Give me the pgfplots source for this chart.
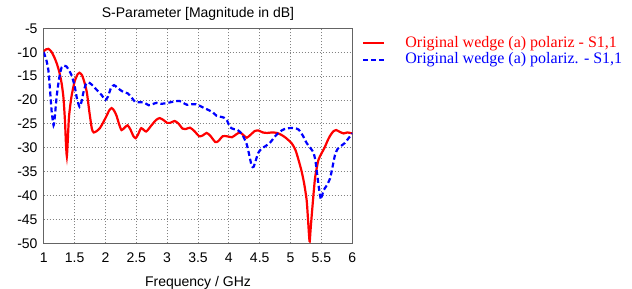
\documentclass[border=0pt]{standalone}
\usepackage{fontspec}
\setmainfont{Liberation Sans}
\newfontfamily\legfont{Liberation Serif}
\usepackage{pgfplots}
\pgfplotsset{compat=1.18}
\definecolor{cred}{RGB}{255,0,0}
\definecolor{cblue}{RGB}{0,0,255}
\definecolor{cgrid}{RGB}{130,130,130}
\definecolor{cframe}{RGB}{100,100,100}
\begin{document}
\begin{tikzpicture}
\path[use as bounding box] (0,0) rectangle (632bp,289bp);
\begin{axis}[
  at={(43.7bp,45.7bp)}, anchor=south west,
  scale only axis, width=308.6bp, height=215bp,
  xmin=1, xmax=6, ymin=-50, ymax=-5,
  xtick={1,1.5,...,6}, ytick={-50,-45,...,-5},
  xticklabels={1,1.5,2,2.5,3,3.5,4,4.5,5,5.5,6},
  yticklabels={-50,-45,-40,-35,-30,-25,-20,-15,-10,-5},
  major tick length=0pt,
  /pgf/number format/assume math mode=true,
  tick label style={font=\fontsize{14bp}{16bp}\selectfont, text=black},
  yticklabel style={inner sep=0pt, xshift=-6bp},
  xticklabel style={inner sep=0pt, yshift=-9bp},
  grid=major,
  major grid style={color=cgrid, line width=0.8bp, dash pattern=on 1bp off 2bp},
  axis line style={color=cframe, line width=1bp},
  title={S-Parameter [Magnitude in dB]},
  title style={font=\fontsize{14bp}{16bp}\selectfont, at={(0.5,1)}, anchor=south, yshift=0bp, inner sep=2bp},
  xlabel={Frequency / GHz},
  xlabel style={font=\fontsize{14bp}{16bp}\selectfont, inner sep=0pt, yshift=-14bp},
  legend style={at={(rel axis cs:1,1)}, anchor=north west, xshift=9.7bp, yshift=-6.7bp,
    draw=none, fill=none, inner sep=0pt, row sep=0.6bp,
    nodes={inner sep=0pt, text height=12bp, text depth=4bp},
    /tikz/every odd column/.style={column sep=20bp},
    font=\legfont\fontsize{16bp}{18bp}\selectfont},
  legend cell align=left,
  legend image code/.code={\draw[#1] (0bp,0bp) -- (21bp,0bp);},
]
\addplot[cred, line width=2.2bp, smooth, tension=0.4] coordinates {
(1.00,-9.8) (1.04,-9.4) (1.075,-9.3) (1.12,-9.8) (1.17,-11.0) (1.21,-12.3)
(1.25,-14.0) (1.29,-16.5) (1.32,-19.5) (1.345,-24.5) (1.36,-29.0) (1.375,-31.8)
(1.39,-28.5) (1.41,-23.5) (1.45,-19.3) (1.50,-16.2) (1.55,-14.6) (1.58,-14.3)
(1.62,-14.8) (1.66,-16.3) (1.70,-18.5) (1.74,-22.5) (1.78,-26.0) (1.81,-26.8)
(1.86,-26.5) (1.91,-25.9) (1.96,-24.8) (2.02,-23.3) (2.06,-22.2) (2.10,-21.7)
(2.14,-22.2) (2.18,-23.3) (2.22,-25.0) (2.26,-26.3) (2.31,-25.8) (2.36,-25.3)
(2.41,-26.3) (2.45,-27.5) (2.49,-28.0) (2.53,-27.2) (2.58,-25.9) (2.66,-26.6)
(2.74,-25.4) (2.82,-24.2) (2.88,-23.8) (2.94,-24.2) (3.00,-24.8) (3.05,-24.8)
(3.12,-24.4) (3.18,-24.9) (3.25,-26.0) (3.30,-26.1) (3.37,-25.8) (3.44,-26.5)
(3.52,-27.6) (3.58,-27.4) (3.64,-26.9) (3.70,-27.5) (3.78,-28.8) (3.83,-28.6)
(3.90,-27.6) (3.97,-27.6) (4.05,-27.8) (4.12,-27.2) (4.18,-26.8) (4.24,-27.4)
(4.29,-27.9) (4.35,-27.3) (4.42,-26.5) (4.48,-26.4) (4.55,-26.8) (4.62,-26.9)
(4.70,-26.8) (4.78,-26.9) (4.85,-27.3) (4.92,-27.9) (5.02,-29.1) (5.08,-30.5)
(5.13,-32.6) (5.18,-35.0) (5.22,-37.5) (5.26,-40.9) (5.28,-44.5) (5.30,-48.5)
(5.31,-49.6) (5.325,-47.0) (5.35,-43.0) (5.38,-38.5) (5.40,-36.0) (5.45,-32.6)
(5.50,-31.2) (5.55,-30.0) (5.60,-28.5) (5.64,-27.5) (5.69,-26.6) (5.74,-26.3)
(5.80,-26.7) (5.86,-27.0) (5.92,-26.8) (6.00,-27.0)
};
\addlegendentry{\textcolor{cred}{Original wedge (a) polariz - S1,1}}
\addplot[cblue, line width=2.2bp, dash pattern=on 5bp off 3bp, smooth, tension=0.4] coordinates {
(1.00,-10.0) (1.04,-11.5) (1.075,-13.7) (1.10,-17.5) (1.13,-22.5) (1.16,-25.3)
(1.18,-23.5) (1.21,-19.3) (1.25,-15.5) (1.29,-13.2) (1.33,-12.8) (1.37,-13.0)
(1.41,-13.8) (1.45,-14.8) (1.50,-17.0) (1.54,-19.8) (1.58,-21.4) (1.61,-20.5)
(1.64,-18.6) (1.68,-16.8) (1.72,-16.3) (1.78,-16.8) (1.86,-17.9) (1.94,-19.0)
(2.00,-20.0) (2.04,-19.3) (2.09,-17.5) (2.14,-16.9) (2.19,-17.4) (2.24,-17.9)
(2.30,-18.4) (2.36,-18.6) (2.42,-19.4) (2.48,-20.4) (2.55,-20.5) (2.62,-20.5)
(2.70,-21.1) (2.76,-20.9) (2.83,-20.6) (2.90,-20.8) (2.97,-20.7) (3.05,-20.5)
(3.12,-20.3) (3.20,-20.2) (3.26,-20.6) (3.32,-21.0) (3.40,-20.9) (3.47,-20.9)
(3.54,-21.3) (3.60,-21.7) (3.67,-22.1) (3.74,-22.6) (3.80,-23.3) (3.86,-23.5)
(3.92,-23.7) (3.97,-24.3) (4.02,-25.7) (4.08,-26.1) (4.13,-26.2) (4.19,-26.8)
(4.24,-27.8) (4.29,-29.3) (4.33,-31.5) (4.37,-33.8) (4.40,-34.0) (4.44,-32.5)
(4.48,-31.0) (4.53,-30.2) (4.60,-29.6) (4.67,-28.9) (4.75,-27.6) (4.83,-26.6)
(4.90,-26.1) (4.98,-25.9) (5.06,-25.9) (5.13,-26.2) (5.20,-27.5) (5.26,-29.0)
(5.33,-30.2) (5.37,-31.0) (5.40,-32.5) (5.43,-35.5) (5.46,-38.5) (5.49,-40.8)
(5.51,-40.0) (5.54,-38.8) (5.59,-37.8) (5.64,-36.4) (5.68,-34.0) (5.72,-31.5)
(5.76,-30.3) (5.82,-29.6) (5.88,-29.0) (5.94,-28.0) (6.00,-27.0)
};
\addlegendentry{\textcolor{cblue}{Original wedge (a) polariz. - S1,1}}
\end{axis}
\end{tikzpicture}
\end{document}
